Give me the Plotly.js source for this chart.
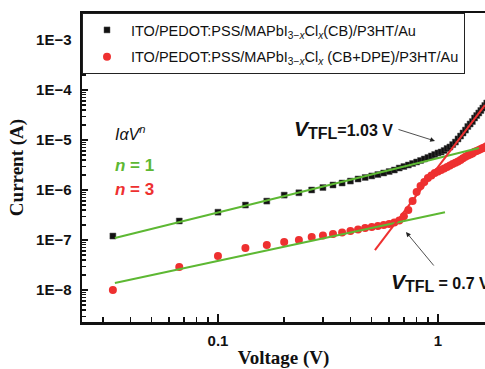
<!DOCTYPE html>
<html>
<head>
<meta charset="utf-8">
<script src="https://cdn.plot.ly/plotly-3.0.1.min.js"></script>
<style>html,body{margin:0;padding:0;overflow:hidden;background:#fff;}#chart{width:485px;height:369px;}</style>
</head>
<body>
<div id="chart"></div>
<script>
// Voltage (V) sample points
const voltage = [0.0333,0.0667,0.1,0.1333,0.1667,0.2,0.2333,0.2667,0.3,0.3333,
  0.3667,0.4,0.4333,0.4667,0.5,0.5333,0.5667,0.6,0.6333,0.6667,
  0.7,0.7333,0.7667,0.8,0.8333,0.8667,0.9,0.9333,0.9667,1.0,
  1.0333,1.0667,1.1,1.1333,1.1667,1.2,1.2333,1.2667,1.3,1.3333,
  1.3667,1.4,1.4333,1.4667,1.5,1.5333,1.5667,1.6,1.6333,1.6667];
// Current (A), device CB
const currentCB = [1.2e-7,2.4e-7,3.6e-7,5.0e-7,6.0e-7,7.9e-7,8.8e-7,1.0e-6,1.12e-6,1.26e-6,
  1.38e-6,1.51e-6,1.66e-6,1.78e-6,1.91e-6,2.04e-6,2.19e-6,2.34e-6,2.51e-6,2.75e-6,
  2.95e-6,3.16e-6,3.39e-6,3.63e-6,3.89e-6,4.17e-6,4.47e-6,4.79e-6,5.13e-6,5.5e-6,
  5.75e-6,6.17e-6,6.76e-6,7.24e-6,8.1e-6,9.1e-6,1.05e-5,1.2e-5,1.38e-5,1.58e-5,
  1.86e-5,2.09e-5,2.34e-5,2.75e-5,3.09e-5,3.47e-5,3.89e-5,4.37e-5,4.9e-5,5.5e-5];
// Current (A), device CB+DPE
const currentDPE = [1.0e-8,2.9e-8,4.8e-8,6.9e-8,7.9e-8,9.1e-8,1.0e-7,1.15e-7,1.23e-7,1.32e-7,
  1.41e-7,1.51e-7,1.62e-7,1.74e-7,1.82e-7,1.91e-7,2.0e-7,2.09e-7,2.24e-7,2.45e-7,
  3.0e-7,4.0e-7,6.0e-7,9.1e-7,1.2e-6,1.45e-6,1.74e-6,1.95e-6,2.19e-6,2.34e-6,
  2.5e-6,2.7e-6,2.9e-6,3.1e-6,3.3e-6,3.5e-6,3.7e-6,4.0e-6,4.3e-6,4.6e-6,
  4.9e-6,5.1e-6,5.4e-6,5.8e-6,6.0e-6,6.3e-6,6.6e-6,6.9e-6,7.2e-6,7.6e-6];
// Fit lines (endpoints)
const fitOhmCB_V = [0.034, 1.535], fitOhmCB_I = [1.1e-7, 6.9e-6];
const fitOhmDPE_V = [0.034, 1.076], fitOhmDPE_I = [1.38e-8, 3.6e-7];
const fitTFL_V = [0.517, 1.635], fitTFL_I = [6.3e-8, 5.0e-5];
// Labels
const seriesNames = [
  'ITO/PEDOT:PSS/MAPbI<sub>3\u2212<i>x</i></sub>Cl<sub><i>x</i></sub>(CB)/P3HT/Au',
  'ITO/PEDOT:PSS/MAPbI<sub>3\u2212<i>x</i></sub>Cl<sub><i>x</i></sub> (CB+DPE)/P3HT/Au'
];
const yTickVals = [1e-8,1e-7,1e-6,1e-5,1e-4,1e-3];
const yTickText = ['1E\u22128','1E\u22127','1E\u22126','1E\u22125','1E\u22124','1E\u22123'];
const xTickVals = [0.1, 1];
const xTickText = ['0.1', '1'];

const GREEN = '#5db833', RED = '#ee3030';
const yMinor = [], xMinor = [];
for (let e = -9; e <= -3; e++) for (let m = 2; m <= 9; m++) yMinor.push(m * Math.pow(10, e));
for (let e = -2; e <= 0; e++) for (let m = 2; m <= 9; m++) xMinor.push(m * Math.pow(10, e));

const traces = [
  {x: voltage, y: currentCB, mode: 'markers', type: 'scatter', name: seriesNames[0], legendgroup: 'cb',
   marker: {symbol: 'square', size: 6, color: '#111', line: {color: '#555', width: 0.5}}},
  {x: voltage, y: currentDPE, mode: 'markers', type: 'scatter', name: seriesNames[1], legendgroup: 'dpe',
   marker: {symbol: 'circle', size: 8, color: RED}},
  {x: fitOhmCB_V, y: fitOhmCB_I, mode: 'lines', showlegend: false, line: {color: GREEN, width: 2}},
  {x: fitOhmDPE_V, y: fitOhmDPE_I, mode: 'lines', showlegend: false, line: {color: GREEN, width: 2}},
  {x: fitTFL_V, y: fitTFL_I, mode: 'lines', showlegend: false, line: {color: RED, width: 2}}
];

const W = 485, L = 82, T = 13, B = 47;
function px(x) { return (x - L) / (W - L); }
function py(y) { return (369 - B - y) / (369 - T - B); }
const arrowFont = {family: 'Liberation Sans, Arial', size: 16, color: '#111'};

const layout = {
  width: W, height: 369,
  margin: {l: L, r: 0, t: T, b: B},
  paper_bgcolor: '#fff', plot_bgcolor: '#fff',
  showlegend: true,
  legend: {x: 0, y: 1, xanchor: 'left', yanchor: 'top', bgcolor: '#fff',
    bordercolor: '#222', borderwidth: 1, itemwidth: 38, tracegroupgap: 5,
    font: {family: 'Liberation Sans, Arial', size: 14.5, color: '#111'}},
  xaxis: {type: 'log', range: [Math.log10(0.0241), Math.log10(1.636)],
    tickmode: 'array', tickvals: xTickVals, ticktext: xTickText,
    ticks: 'inside', ticklen: 8, tickwidth: 2, tickcolor: '#111',
    showline: true, linewidth: 2.5, linecolor: '#111', mirror: true,
    showgrid: false, zeroline: false, ticklabelstandoff: 3,
    tickfont: {family: 'Liberation Sans, Arial', size: 15, color: '#111', weight: 'bold'},
    minor: {tickmode: 'array', tickvals: xMinor, ticks: 'inside', ticklen: 5, tickwidth: 1.5, tickcolor: '#111', showgrid: false},
    title: {text: 'Voltage (V)', standoff: 9,
      font: {family: 'Liberation Serif, Times New Roman', size: 19, color: '#111', weight: 'bold'}}},
  yaxis: {type: 'log', range: [-8.64, -2.46],
    tickmode: 'array', tickvals: yTickVals, ticktext: yTickText,
    ticks: 'inside', ticklen: 6, tickwidth: 2, tickcolor: '#111',
    showline: true, linewidth: 2.5, linecolor: '#111', mirror: false,
    showgrid: false, zeroline: false, ticklabelstandoff: 5,
    tickfont: {family: 'Liberation Sans, Arial', size: 15, color: '#111', weight: 'bold'},
    minor: {tickmode: 'array', tickvals: yMinor, ticks: 'inside', ticklen: 4, tickwidth: 1.2, tickcolor: '#111', showgrid: false},
    title: {text: 'Current (A)', standoff: 8,
      font: {family: 'Liberation Serif, Times New Roman', size: 19, color: '#111', weight: 'bold'}}},
  annotations: [
    {xref: 'paper', yref: 'paper', x: px(113), y: py(133), xanchor: 'left', yanchor: 'middle', showarrow: false,
     text: '<i>I\u03b1V<sup>n</sup></i>', font: {family: 'Liberation Sans, Arial', size: 16, color: '#111'}},
    {xref: 'paper', yref: 'paper', x: px(113), y: py(165), xanchor: 'left', yanchor: 'middle', showarrow: false,
     text: '<b><i>n</i> = 1</b>', font: {family: 'Liberation Sans, Arial', size: 17, color: GREEN}},
    {xref: 'paper', yref: 'paper', x: px(113), y: py(189), xanchor: 'left', yanchor: 'middle', showarrow: false,
     text: '<b><i>n</i> = 3</b>', font: {family: 'Liberation Sans, Arial', size: 17, color: RED}},
    {xref: 'paper', yref: 'paper', x: px(292), y: py(129), xanchor: 'left', yanchor: 'middle', showarrow: false,
     text: '<b><i><span style="font-size:21px">V</span></i><sub><span style="font-size:16px">TFL</span></sub>=1.03 V</b>', font: arrowFont},
    {xref: 'paper', yref: 'paper', x: px(389), y: py(282), xanchor: 'left', yanchor: 'middle', showarrow: false,
     text: '<b><i><span style="font-size:21px">V</span></i><sub><span style="font-size:16px">TFL</span></sub> = 0.7 V</b>', font: arrowFont},
    {xref: 'paper', yref: 'paper', x: px(435), y: py(141), ax: -38, ay: -12, text: '', showarrow: true,
     arrowhead: 2, arrowsize: 1.2, arrowwidth: 0.8, arrowcolor: '#222'},
    {xref: 'paper', yref: 'paper', x: px(406), y: py(232), ax: 29, ay: 35, text: '', showarrow: true,
     arrowhead: 2, arrowsize: 1.2, arrowwidth: 0.8, arrowcolor: '#222'}
  ]
};

Plotly.newPlot('chart', traces, layout, {displayModeBar: false, staticPlot: true});
</script>
</body>
</html>
